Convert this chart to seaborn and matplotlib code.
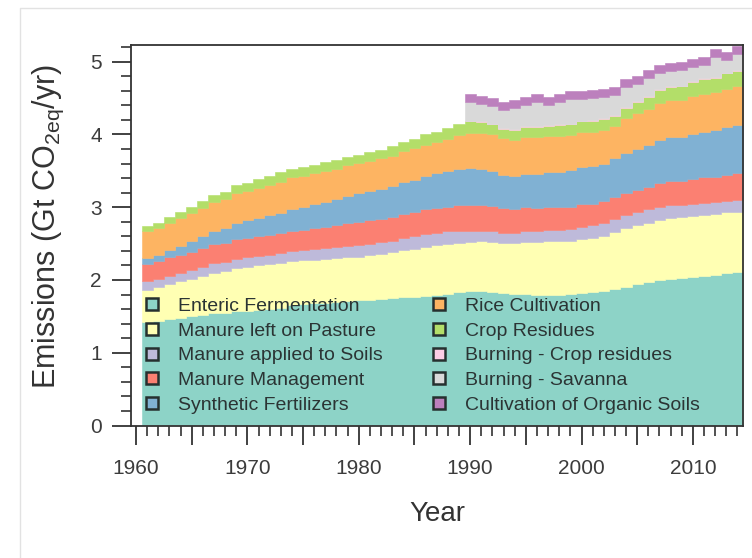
import numpy as np
import pandas as pd
import matplotlib
matplotlib.use("Agg")
import matplotlib.pyplot as plt
from matplotlib.lines import Line2D
from matplotlib.ticker import MultipleLocator, FuncFormatter
import seaborn as sns

# Agricultural emissions by source, Gt CO2eq per year
years = list(range(1961, 2015))

categories = [
    "Enteric Fermentation",
    "Manure left on Pasture",
    "Manure applied to Soils",
    "Manure Management",
    "Synthetic Fertilizers",
    "Rice Cultivation",
    "Crop Residues",
    "Burning - Crop residues",
    "Burning - Savanna",
    "Cultivation of Organic Soils",
]

enteric = [1.42, 1.44, 1.46, 1.48, 1.50, 1.52, 1.54, 1.55, 1.57, 1.58,
           1.59, 1.60, 1.62, 1.65, 1.67, 1.68, 1.69, 1.70, 1.71, 1.72,
           1.73, 1.74, 1.75, 1.76, 1.77, 1.78, 1.79, 1.81, 1.83, 1.85,
           1.85, 1.83, 1.82, 1.81, 1.81, 1.80, 1.80, 1.80, 1.81, 1.82,
           1.83, 1.85, 1.88, 1.91, 1.94, 1.97, 2.00, 2.02, 2.03, 2.04,
           2.05, 2.07, 2.09, 2.11]
pasture = [0.44, 0.46, 0.48, 0.50, 0.52, 0.54, 0.56, 0.57, 0.59, 0.60,
           0.61, 0.62, 0.62, 0.61, 0.60, 0.60, 0.60, 0.60, 0.60, 0.60,
           0.61, 0.62, 0.63, 0.65, 0.66, 0.68, 0.69, 0.69, 0.68, 0.67,
           0.68, 0.69, 0.69, 0.70, 0.71, 0.72, 0.73, 0.73, 0.73, 0.74,
           0.75, 0.76, 0.78, 0.80, 0.81, 0.82, 0.83, 0.83, 0.83, 0.84,
           0.84, 0.84, 0.84, 0.83]
applied = [0.12, 0.12, 0.12, 0.12, 0.12, 0.12, 0.13, 0.13, 0.13, 0.13,
           0.13, 0.13, 0.13, 0.14, 0.14, 0.15, 0.15, 0.15, 0.16, 0.16,
           0.16, 0.16, 0.16, 0.17, 0.17, 0.17, 0.17, 0.17, 0.17, 0.16,
           0.15, 0.15, 0.14, 0.14, 0.15, 0.15, 0.16, 0.16, 0.16, 0.17,
           0.17, 0.17, 0.18, 0.18, 0.18, 0.18, 0.18, 0.18, 0.17, 0.17,
           0.17, 0.16, 0.16, 0.16]
management = [0.24, 0.24, 0.25, 0.25, 0.25, 0.26, 0.26, 0.26, 0.27, 0.27,
              0.27, 0.27, 0.27, 0.28, 0.28, 0.29, 0.29, 0.30, 0.31, 0.32,
              0.32, 0.32, 0.33, 0.33, 0.33, 0.34, 0.34, 0.34, 0.35, 0.35,
              0.35, 0.35, 0.34, 0.33, 0.33, 0.32, 0.32, 0.31, 0.31, 0.31,
              0.30, 0.30, 0.30, 0.30, 0.31, 0.31, 0.32, 0.33, 0.33, 0.34,
              0.35, 0.35, 0.36, 0.37]
fertilizers = [0.08, 0.09, 0.10, 0.12, 0.14, 0.16, 0.18, 0.20, 0.22, 0.24,
               0.25, 0.27, 0.28, 0.30, 0.31, 0.32, 0.34, 0.36, 0.38, 0.39,
               0.40, 0.41, 0.42, 0.44, 0.45, 0.46, 0.48, 0.49, 0.50, 0.51,
               0.50, 0.48, 0.46, 0.45, 0.46, 0.47, 0.48, 0.49, 0.50, 0.51,
               0.52, 0.52, 0.53, 0.55, 0.56, 0.58, 0.60, 0.60, 0.60, 0.62,
               0.63, 0.64, 0.65, 0.66]
rice = [0.37, 0.37, 0.38, 0.38, 0.39, 0.39, 0.40, 0.40, 0.41, 0.41,
        0.42, 0.42, 0.43, 0.43, 0.43, 0.43, 0.43, 0.42, 0.42, 0.42,
        0.42, 0.42, 0.42, 0.42, 0.43, 0.43, 0.43, 0.44, 0.46, 0.48,
        0.49, 0.50, 0.50, 0.50, 0.50, 0.50, 0.49, 0.49, 0.48, 0.48,
        0.47, 0.46, 0.45, 0.48, 0.49, 0.49, 0.50, 0.51, 0.51, 0.52,
        0.52, 0.52, 0.53, 0.53]
residues = [0.07, 0.07, 0.08, 0.08, 0.09, 0.09, 0.10, 0.10, 0.11, 0.11,
            0.12, 0.12, 0.13, 0.12, 0.12, 0.11, 0.12, 0.12, 0.11, 0.11,
            0.12, 0.12, 0.13, 0.13, 0.13, 0.14, 0.14, 0.15, 0.15, 0.16,
            0.15, 0.14, 0.13, 0.13, 0.14, 0.14, 0.14, 0.15, 0.15, 0.15,
            0.15, 0.15, 0.14, 0.15, 0.16, 0.17, 0.18, 0.18, 0.19, 0.19,
            0.20, 0.20, 0.21, 0.21]
# burning and organic soils are only reported from 1990 on
burning_crop = [None] * 29 + [0.01, 0.01, 0.01, 0.01, 0.01, 0.01, 0.01, 0.01, 0.01, 0.01,
                              0.01, 0.01, 0.01, 0.01, 0.01, 0.01, 0.01, 0.01, 0.01, 0.01,
                              0.01, 0.01, 0.01, 0.01, 0.01]
savanna = [None] * 29 + [0.25, 0.24, 0.24, 0.24, 0.30, 0.30, 0.33, 0.28, 0.31, 0.34,
                         0.30, 0.30, 0.30, 0.27, 0.27, 0.23, 0.24, 0.22, 0.21, 0.22,
                         0.20, 0.19, 0.27, 0.18, 0.22]
organic = [None] * 29 + [0.11, 0.11, 0.11, 0.11, 0.11, 0.11, 0.11, 0.11, 0.11, 0.11,
                         0.11, 0.11, 0.11, 0.11, 0.11, 0.11, 0.11, 0.11, 0.11, 0.11,
                         0.11, 0.11, 0.11, 0.11, 0.11]

series = [enteric, pasture, applied, management, fertilizers,
          rice, residues, burning_crop, savanna, organic]
df = pd.DataFrame({name: np.array(vals, dtype=float)
                   for name, vals in zip(categories, series)}, index=years)

sns.set_theme(style="ticks")
plt.rcParams["font.family"] = ["Liberation Sans", "DejaVu Sans"]
plt.rcParams["mathtext.fontset"] = "custom"
plt.rcParams["mathtext.rm"] = "Liberation Sans"
plt.rcParams["mathtext.it"] = "Liberation Sans:italic"

palette = sns.color_palette("Set3", len(categories))
ink = "#333333"

W, H = 752, 558
fig = plt.figure(figsize=(W / 100, H / 100), dpi=100)
fig.patch.set_facecolor("white")
ax = fig.add_axes([131 / W, 1 - 425.5 / H, 612 / W, 380.5 / H])

# yearly values drawn as steps centred on each year
idx = df.index.values.astype(float)
edges = np.append(idx - 0.5, idx[-1] + 0.5)
base = np.zeros(len(edges))
for name, color in zip(categories, palette):
    vals = df[name].values
    present = ~np.isnan(vals)
    v = np.nan_to_num(vals)
    v = np.append(v, v[-1])
    mask = np.append(present, present[-1])
    top = base + v
    ax.fill_between(edges, base, top, where=mask, step="post",
                    facecolor=color, edgecolor=color, linewidth=0.4)
    base = top

ax.set_xlim(1959.55, 2014.5)
ax.set_ylim(0, 5.23)

ax.xaxis.set_major_locator(MultipleLocator(5))
ax.xaxis.set_minor_locator(MultipleLocator(1))
ax.xaxis.set_major_formatter(FuncFormatter(
    lambda v, p: f"{int(round(v))}" if int(round(v)) % 10 == 0 else ""))
ax.yaxis.set_major_locator(MultipleLocator(1))
ax.yaxis.set_minor_locator(MultipleLocator(0.2))

ax.tick_params(which="major", direction="out", length=14, width=1.3,
               color=ink, labelsize=15, labelcolor="#3c3c3c")
ax.tick_params(which="minor", direction="out", length=7, width=1.2, color=ink)
ax.tick_params(axis="x", which="major", pad=10)
ax.tick_params(axis="y", which="major", pad=7)

for sp in ax.spines.values():
    sp.set_visible(True)
    sp.set_color(ink)
    sp.set_linewidth(1.3)

ax.set_xlabel("Year", fontsize=20, color=ink, labelpad=17)
ax.set_ylabel("Emissions (Gt CO$_{\\mathrm{2eq}}$/yr)", fontsize=22, color=ink)
ax.yaxis.set_label_coords(-0.107, 0.524)

handles = [Line2D([], [], linestyle="", marker="s", markersize=9,
                  markerfacecolor=c, markeredgecolor="#26302f",
                  markeredgewidth=1.8) for c in palette]
leg = ax.legend(handles, categories, ncol=2, loc="lower left",
                bbox_to_anchor=(0.012, 0.03), frameon=False, fontsize=14,
                handlelength=1.4, handletextpad=0.64, columnspacing=2.2,
                labelspacing=0.37, borderpad=0, borderaxespad=0)
for t in leg.get_texts():
    t.set_color("#2b3434")

# faint card border around the chart
fig.add_artist(Line2D([20 / W, 20 / W, 1.0], [0.0, 1 - 8 / H, 1 - 8 / H],
                      transform=fig.transFigure, color="#e2e2e2", linewidth=1))

fig.savefig("out.png", dpi=100, facecolor="white")
